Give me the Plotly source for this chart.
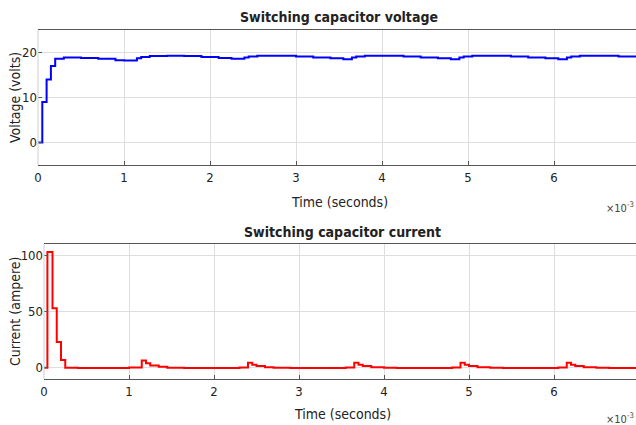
import plotly.graph_objects as go

# Voltage (step trace)
v_time = [0, 0.05, 0.1, 0.15, 0.2, 0.3, 0.5, 0.7, 0.9, 1.0, 1.15, 1.2, 1.3, 1.5, 1.7, 1.9, 2.1, 2.25,
          2.4, 2.45, 2.55, 2.8, 3.0, 3.2, 3.4, 3.55, 3.65, 3.7, 3.8, 4.05, 4.25, 4.45, 4.65, 4.8,
          4.9, 4.95, 5.05, 5.3, 5.5, 5.7, 5.9, 6.05, 6.15, 6.2, 6.3, 6.55, 6.75, 6.97]
v_vals = [0, 9, 14, 17, 18.6, 18.9, 18.8, 18.6, 18.3, 18.2, 18.7, 19.0, 19.2, 19.3, 19.2, 19.0, 18.8, 18.6,
          18.9, 19.1, 19.3, 19.3, 19.1, 18.9, 18.7, 18.5, 18.9, 19.1, 19.3, 19.3, 19.1, 18.9, 18.7, 18.5,
          18.9, 19.1, 19.3, 19.3, 19.1, 18.9, 18.7, 18.5, 18.9, 19.1, 19.3, 19.3, 19.1, 19.0]

# Current (step trace)
i_time = [0, 0.04, 0.1, 0.15, 0.2, 0.25, 0.4, 1.0, 1.15, 1.2, 1.25, 1.35, 1.45, 1.65,
          2.3, 2.4, 2.45, 2.5, 2.6, 2.7, 2.9, 3.55, 3.65, 3.7, 3.75, 3.85, 4.0, 4.15,
          4.8, 4.9, 4.95, 5.0, 5.1, 5.25, 5.4, 6.05, 6.15, 6.2, 6.25, 6.35, 6.5, 6.65, 6.97]
i_vals = [0, 103, 53, 23, 7, 0, -0.3, 0.3, 6.5, 4, 2, 0.8, 0, -0.3,
          0.3, 4.5, 2.6, 1.5, 0.5, 0, -0.3, 0.3, 4.5, 2.6, 1.5, 0.5, 0, -0.3,
          0.3, 4.5, 2.6, 1.5, 0.5, 0, -0.3, 0.3, 4.5, 2.6, 1.5, 0.5, 0, -0.3, -0.3]

x_ticks = [0, 1, 2, 3, 4, 5, 6]
v_ticks = [0, 10, 20]
i_ticks = [0, 50, 100]

W, H = 636, 425
FONT = "Liberation Sans Narrow, DejaVu Sans Condensed, Arial Narrow, Liberation Sans, Arial"

fig = go.Figure()
fig.add_trace(go.Scatter(x=v_time, y=v_vals, mode="lines", line=dict(color="#0000ff", width=2, shape="hv"),
                         xaxis="x", yaxis="y", showlegend=False))
fig.add_trace(go.Scatter(x=i_time, y=i_vals, mode="lines", line=dict(color="#ff0000", width=2, shape="hv"),
                         xaxis="x2", yaxis="y2", showlegend=False))

def px_x(p):
    return p / W

def px_y(p):
    return 1 - p / H

axis_common = dict(showgrid=True, gridcolor="#dedede", gridwidth=1, zeroline=False, automargin=False,
                   tickfont=dict(family=FONT, size=13, color="#222"),
                   ticks="inside", ticklen=4, tickcolor="#555")

top_l, bot_l = 38, 44
fig.update_layout(
    template="none",
    width=W, height=H, margin=dict(l=0, r=0, t=0, b=0),
    paper_bgcolor="white", plot_bgcolor="white",
    xaxis=dict(domain=[px_x(top_l), 1], range=[0, (W - top_l) / 86], tickvals=x_ticks,
               showline=True, linecolor="#555", linewidth=1, mirror=True, anchor="y", **axis_common),
    yaxis=dict(domain=[px_y(165), px_y(30)], range=[-5, 25], tickvals=v_ticks,
               showline=False, anchor="x", **axis_common),
    xaxis2=dict(domain=[px_x(bot_l), 1], range=[0, (W - bot_l) / 85], tickvals=x_ticks,
                showline=True, linecolor="#555", linewidth=1, mirror=True, anchor="y2", **axis_common),
    yaxis2=dict(domain=[px_y(379), px_y(244)], range=[-10, 110], tickvals=i_ticks,
                showline=False, anchor="x2", **axis_common),
)

# vertical left edges (light)
for xa, ya in (("x", "y"), ("x2", "y2")):
    fig.add_shape(type="line", xref=xa + " domain", yref=ya + " domain", x0=0, x1=0, y0=0, y1=1,
                  line=dict(color="#cfcfcf", width=1))

ann = []
title_font = dict(family=FONT, size=14, color="#222")
label_font = dict(family=FONT, size=14, color="#222")
ann.append(dict(text="<b>Switching capacitor voltage</b>", x=px_x(339), y=px_y(17), xref="paper", yref="paper",
                showarrow=False, font=title_font, xanchor="center", yanchor="middle"))
ann.append(dict(text="<b>Switching capacitor current</b>", x=px_x(342), y=px_y(232), xref="paper", yref="paper",
                showarrow=False, font=title_font, xanchor="center", yanchor="middle"))
ann.append(dict(text="Time (seconds)", x=px_x(339), y=px_y(202), xref="paper", yref="paper",
                showarrow=False, font=label_font, xanchor="center", yanchor="middle"))
ann.append(dict(text="Time (seconds)", x=px_x(342), y=px_y(414), xref="paper", yref="paper",
                showarrow=False, font=label_font, xanchor="center", yanchor="middle"))
ann.append(dict(text="Voltage (volts)", x=px_x(15), y=px_y(98), xref="paper", yref="paper", textangle=-90,
                showarrow=False, font=label_font, xanchor="center", yanchor="middle"))
ann.append(dict(text="Current (ampere)", x=px_x(15), y=px_y(312), xref="paper", yref="paper", textangle=-90,
                showarrow=False, font=label_font, xanchor="center", yanchor="middle"))
ann.append(dict(text="×10<sup>-3</sup>", x=1, y=px_y(207), xref="paper", yref="paper",
                showarrow=False, font=dict(family=FONT, size=11, color="#444"), xanchor="right", yanchor="middle"))
ann.append(dict(text="×10<sup>-3</sup>", x=1, y=px_y(418), xref="paper", yref="paper",
                showarrow=False, font=dict(family=FONT, size=11, color="#444"), xanchor="right", yanchor="middle"))
fig.update_layout(annotations=ann)

fig.write_html("out.html", config={"displayModeBar": False},
               post_script="document.body.style.margin='0';document.body.style.overflow='hidden';")
